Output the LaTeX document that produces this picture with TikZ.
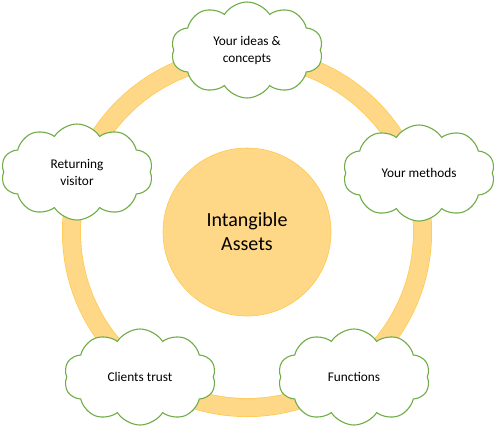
\documentclass[tikz,border=0pt]{standalone}
\usepackage{fontspec}
\setmainfont{Carlito}
\usetikzlibrary{shapes.symbols}
\definecolor{ringfill}{HTML}{FFD887}
\definecolor{ringedge}{HTML}{FFC84A}
\definecolor{cloudgreen}{HTML}{70AD47}
\tikzset{
  cloudbox/.style={cloud, cloud puffs=10, cloud puff arc=115, aspect=1.6,
    draw=cloudgreen, line width=1.1pt, fill=white, inner sep=0pt,
    minimum width=152pt, minimum height=96pt, align=center,
    font=\fontsize{13.3}{17}\selectfont},
  hubbox/.style={circle, fill=ringfill, draw=ringedge, line width=0.6pt,
    minimum size=168pt, inner sep=0pt, align=center,
    font=\fontsize{20}{24}\selectfont}
}
\begin{document}
\begin{tikzpicture}[x=1pt,y=-1pt]
\useasboundingbox (0,0) rectangle (500,432);
\coordinate (c) at (247,232);
% ring
\fill[ringedge] (c) circle (185);
\fill[ringfill] (c) circle (184.3);
\fill[ringedge] (c) circle (166.7);
\fill[white] (c) circle (166);
\node[hubbox] (hub) at (c) {Intangible\\Assets};
\node[cloudbox] (ideas) at (247,50) {Your ideas \&\\concepts};
\node[cloudbox] (methods) at (419,173) {Your methods};
\node[cloudbox] (functions) at (354,377) {Functions};
\node[cloudbox] (trust) at (140,377) {Clients trust};
\node[cloudbox] (visitor) at (77,172) {Returning\\visitor};
\end{tikzpicture}
\end{document}
